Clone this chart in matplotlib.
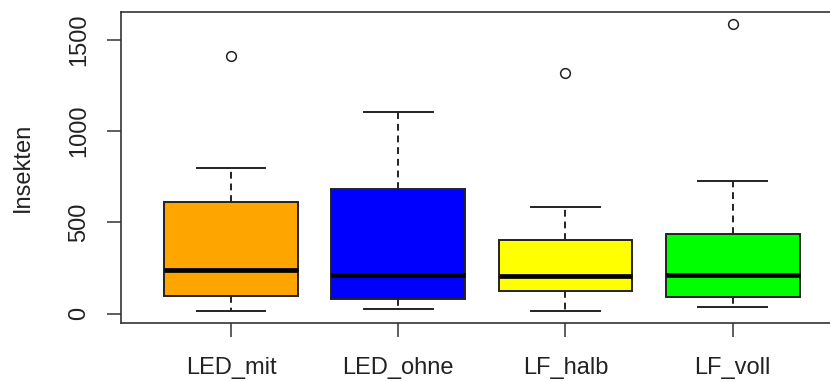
import matplotlib
matplotlib.use("Agg")
import matplotlib.pyplot as plt

# values
groups = ["LED_mit", "LED_ohne", "LF_halb", "LF_voll"]
whisk_lo = [16, 24, 16, 35]
q1 = [97, 82, 122, 90]
median = [238, 214, 205, 214]
q3 = [609, 683, 402, 435]
whisk_hi = [800, 1105, 584, 726]
outliers = [[1409], [], [1318], [1588]]
colors = ["#FFA500", "#0000FF", "#FFFF00", "#00FF00"]

plt.rcParams['font.family'] = ['Liberation Sans', 'DejaVu Sans']

stats = []
for i, g in enumerate(groups):
    stats.append(dict(label=g, whislo=whisk_lo[i], q1=q1[i], med=median[i],
                      q3=q3[i], whishi=whisk_hi[i], fliers=outliers[i]))

fig = plt.figure(figsize=(8.3, 3.81), dpi=100)
ax = fig.add_axes([120.7 / 830, 58.3 / 381, 722.3 / 830, 311 / 381])

edge = "#222222"
bp = ax.bxp(stats, positions=range(1, 5), widths=0.8, capwidths=0.41,
            patch_artist=True,
            boxprops=dict(edgecolor=edge, linewidth=1.4),
            medianprops=dict(color="black", linewidth=3.4, solid_capstyle="butt"),
            whiskerprops=dict(color=edge, linewidth=1.4, linestyle=(0, (3.5, 2.5))),
            capprops=dict(color=edge, linewidth=1.4),
            flierprops=dict(marker="o", markerfacecolor="none", markeredgecolor=edge,
                            markersize=7, markeredgewidth=1.1))
for patch, c in zip(bp["boxes"], colors):
    patch.set_facecolor(c)

ax.set_xlim(0.34, 4.66)
ax.set_ylim(-50, 1654)
ax.set_yticks([0, 500, 1000, 1500])
ax.set_xticks(range(1, 5))
ax.set_xticklabels(groups)
for lbl in ax.get_yticklabels():
    lbl.set_rotation(90)
    lbl.set_va("center")
ax.tick_params(axis="both", length=9.8, width=1.1, color="#333333",
               labelsize=17, labelcolor="#222222")
ax.tick_params(axis="x", pad=15)
ax.tick_params(axis="y", pad=12)
ax.set_ylabel("Insekten", fontsize=17, color="#222222", labelpad=25)

for s in ax.spines.values():
    s.set_color("#333333")
    s.set_linewidth(1.2)

fig.savefig("out.png", dpi=100)
